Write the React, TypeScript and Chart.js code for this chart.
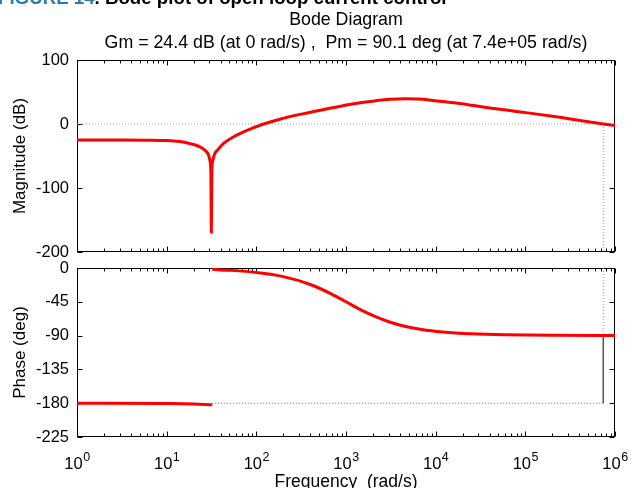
import React, { useEffect, useRef } from 'react';
import { Chart, registerables } from 'chart.js';

Chart.register(...registerables);

// ---------- data ----------
const decades = [1, 10, 100, 1000, 10000, 100000];
const decadeLabels = [1, 10, 100, 1000, 10000, 100000, 1000000];
const magTicks = [-200, -100, 0, 100];
const phaseTicks = [-225, -180, -135, -90, -45, 0];

const magFreq = [
  1, 3, 6, 10, 14, 18, 22, 25, 27.5, 29.2, 30.5, 31.1, 31.5, 31.9, 32.6, 34, 37.3,
  43.5, 53.5, 69, 89, 121, 183, 306, 582, 1100, 1850, 3100, 4550, 6700, 11100,
  18600, 35300, 67000, 112000, 242000, 524000, 740000, 1000000,
];
const magDb = [
  -25, -25, -25.2, -25.8, -27.5, -30.5, -34, -38, -42.5, -48, -58, -75, -169, -75, -58, -48, -40,
  -30, -21.5, -13.5, -7, 0, 7.5, 15, 23, 30.5, 35, 38.5, 39.5, 39, 35.5,
  32, 26, 21, 17, 10.5, 3.2, 0, -2.5,
];

const phaseLowFreq = [1, 10, 20, 32.2];
const phaseLowDeg = [-180, -180.5, -181, -182];

const phaseHighFreq = [
  32.2, 50, 100, 200, 400, 700, 1000, 1500, 2200, 3000, 4500, 7000, 12000, 25000,
  60000, 200000, 1000000,
];
const phaseHighDeg = [
  -1.8, -3, -6, -11.5, -22, -35, -45, -56.5, -65.5, -71.5, -77.5, -82, -85.3, -87.7,
  -89, -89.7, -89.9,
];

const phaseJumpFreq = 32.2;
const pmFreq = 7.4e5;
const pmPhase = -89.9;

const FONT = "'Liberation Sans', Arial, Helvetica, sans-serif";

const zip = (xs: number[], ys: number[]) => xs.map((x, i) => ({ x, y: ys[i] }));

const boxPlugin = {
  id: 'boxTicks',
  beforeDatasetsDraw(chart: any, _args: any, opts: any) {
    const { ctx, chartArea: a, scales } = chart;
    const xs = scales.x;
    const ys = scales.y;
    const yTicks: number[] = opts.yTicks || [];
    const L = Math.round(a.left) + 0.5;
    const R = Math.round(a.right) - 0.5;
    const T = Math.round(a.top) + 0.5;
    const B = Math.round(a.bottom) - 0.5;
    ctx.save();
    ctx.strokeStyle = '#000';
    ctx.lineWidth = 1;
    ctx.beginPath();
    const xv: { v: number; major: boolean }[] = [];
    decades.forEach((d) => {
      for (let m = 1; m <= 9; m++) xv.push({ v: m * d, major: m === 1 });
    });
    xv.push({ v: 1000000, major: true });
    xv.forEach(({ v, major }) => {
      const px = Math.round(xs.getPixelForValue(v)) + 0.5;
      const len = major ? 5 : 3;
      ctx.moveTo(px, B);
      ctx.lineTo(px, B - len);
      ctx.moveTo(px, T);
      ctx.lineTo(px, T + len);
    });
    yTicks.forEach((t) => {
      const py = Math.round(ys.getPixelForValue(t)) + 0.5;
      ctx.moveTo(L, py);
      ctx.lineTo(L + 5, py);
      ctx.moveTo(R, py);
      ctx.lineTo(R - 5, py);
    });
    ctx.stroke();
    ctx.strokeRect(L, T, R - L, B - T);
    ctx.restore();
  },
  afterDraw(chart: any, _args: any, opts: any) {
    if (!opts.powerLabels) return;
    const { ctx, chartArea: a, scales } = chart;
    const xs = scales.x;
    ctx.save();
    ctx.fillStyle = '#000';
    ctx.textAlign = 'left';
    ctx.textBaseline = 'alphabetic';
    const baseY = a.bottom + 32;
    decadeLabels.forEach((v) => {
      const exp = String(Math.round(Math.log10(v)));
      const px = xs.getPixelForValue(v);
      ctx.font = `16.5px ${FONT}`;
      const w1 = ctx.measureText('10').width;
      ctx.font = `12.5px ${FONT}`;
      const w2 = ctx.measureText(exp).width;
      const x0 = px - (w1 + w2) / 2;
      ctx.font = `16.5px ${FONT}`;
      ctx.fillText('10', x0, baseY);
      ctx.font = `12.5px ${FONT}`;
      ctx.fillText(exp, x0 + w1 + 0.5, baseY - 8);
    });
    ctx.restore();
  },
};

export default function App() {
  const magRef = useRef<HTMLCanvasElement>(null);
  const phRef = useRef<HTMLCanvasElement>(null);

  useEffect(() => {
    Chart.defaults.font.family = FONT;
    Chart.defaults.color = '#000';

    const redLine = {
      borderColor: '#ff0000',
      borderWidth: 3,
      pointRadius: 0,
      fill: false,
      cubicInterpolationMode: 'monotone' as const,
    };

    const yCommon = {
      type: 'linear',
      grid: { display: false, drawTicks: false },
      border: { display: false },
      ticks: { font: { size: 16.5 }, padding: 8, color: '#000' },
      afterFit: (s: any) => {
        s.width = 77;
      },
    };

    const c1 = new Chart(magRef.current!, {
      type: 'line',
      data: {
        datasets: [
          { ...redLine, data: zip(magFreq, magDb) },
          {
            data: [{ x: 1, y: 0 }, { x: pmFreq, y: 0 }],
            borderColor: '#a0a0a0', borderWidth: 1, borderDash: [1, 2], pointRadius: 0,
          },
          {
            data: [{ x: pmFreq, y: 0 }, { x: pmFreq, y: -200 }],
            borderColor: '#a0a0a0', borderWidth: 1, borderDash: [1, 2], pointRadius: 0,
          },
        ],
      },
      options: {
        responsive: false,
        animation: false,
        events: [],
        layout: { padding: { top: 60, bottom: 30, left: 0, right: 22 } },
        plugins: {
          legend: { display: false },
          tooltip: { enabled: false },
          boxTicks: { yTicks: magTicks, powerLabels: false },
        } as any,
        scales: {
          x: { type: 'logarithmic', min: 1, max: 1e6, display: false },
          y: {
            ...yCommon,
            min: -200,
            max: 100,
            afterBuildTicks: (s: any) => {
              s.ticks = magTicks.map((v) => ({ value: v }));
            },
            title: {
              display: true,
              text: 'Magnitude (dB)',
              font: { size: 17 },
              color: '#000',
              padding: { top: 10, bottom: 0 },
            },
          },
        },
      },
      plugins: [boxPlugin],
    } as any);

    const c2 = new Chart(phRef.current!, {
      type: 'line',
      data: {
        datasets: [
          { ...redLine, data: zip(phaseLowFreq, phaseLowDeg) },
          { ...redLine, data: zip(phaseHighFreq, phaseHighDeg) },
          {
            data: [{ x: phaseJumpFreq, y: -180 }, { x: pmFreq, y: -180 }],
            borderColor: '#666', borderWidth: 1, borderDash: [1, 2], pointRadius: 0,
          },
          {
            data: [{ x: pmFreq, y: 0 }, { x: pmFreq, y: pmPhase }],
            borderColor: '#a0a0a0', borderWidth: 1, borderDash: [1, 2], pointRadius: 0,
          },
          {
            data: [{ x: pmFreq, y: pmPhase }, { x: pmFreq, y: -180 }],
            borderColor: '#555', borderWidth: 1.5, pointRadius: 0,
          },
        ],
      },
      options: {
        responsive: false,
        animation: false,
        events: [],
        layout: { padding: { top: 30, bottom: 0, left: 0, right: 22 } },
        plugins: {
          legend: { display: false },
          tooltip: { enabled: false },
          boxTicks: { yTicks: phaseTicks, powerLabels: true },
        } as any,
        scales: {
          x: {
            type: 'logarithmic',
            min: 1,
            max: 1e6,
            afterBuildTicks: (s: any) => {
              s.ticks = decadeLabels.map((v) => ({ value: v }));
            },
            afterFit: (s: any) => {
              s.height = 51;
            },
            grid: { display: false, drawTicks: false },
            border: { display: false },
            ticks: { display: false },
          },
          y: {
            ...yCommon,
            min: -225,
            max: 0,
            afterBuildTicks: (s: any) => {
              s.ticks = phaseTicks.map((v) => ({ value: v }));
            },
            title: {
              display: true,
              text: 'Phase (deg)',
              font: { size: 17 },
              color: '#000',
              padding: { top: 10, bottom: 0 },
            },
          },
        },
      },
      plugins: [boxPlugin],
    } as any);

    return () => {
      c1.destroy();
      c2.destroy();
    };
  }, []);

  return (
    <div
      style={{
        position: 'fixed',
        left: 0,
        top: 0,
        width: 637,
        height: 488,
        overflow: 'hidden',
        background: '#fff',
        fontFamily: FONT,
        color: '#000',
      }}
    >
      <canvas ref={magRef} width={637} height={282} style={{ position: 'absolute', left: 0, top: 0 }} />
      <canvas ref={phRef} width={637} height={250} style={{ position: 'absolute', left: 0, top: 238 }} />
      <div
        style={{
          position: 'absolute',
          left: -2,
          top: -13,
          fontWeight: 'bold',
          fontSize: 18.7,
          whiteSpace: 'nowrap',
          lineHeight: 'normal',
        }}
      >
        <span style={{ color: '#2a7ab9' }}>FIGURE 14</span>. Bode plot of open loop current control
      </div>
      <div
        style={{
          position: 'absolute',
          left: 346 - 300,
          width: 600,
          top: 8.6,
          textAlign: 'center',
          fontSize: 17.8,
          whiteSpace: 'pre',
          lineHeight: 'normal',
        }}
      >
        Bode Diagram
      </div>
      <div
        style={{
          position: 'absolute',
          left: 346 - 300,
          width: 600,
          top: 32.4,
          textAlign: 'center',
          fontSize: 17.8,
          whiteSpace: 'pre',
          lineHeight: 'normal',
        }}
      >
        {'Gm = 24.4 dB (at 0 rad/s) ,  Pm = 90.1 deg (at 7.4e+05 rad/s)'}
      </div>
      <div
        style={{
          position: 'absolute',
          left: 346 - 200,
          width: 400,
          top: 470.9,
          textAlign: 'center',
          fontSize: 17.5,
          whiteSpace: 'pre',
          lineHeight: 'normal',
        }}
      >
        {'Frequency  (rad/s)'}
      </div>
    </div>
  );
}
